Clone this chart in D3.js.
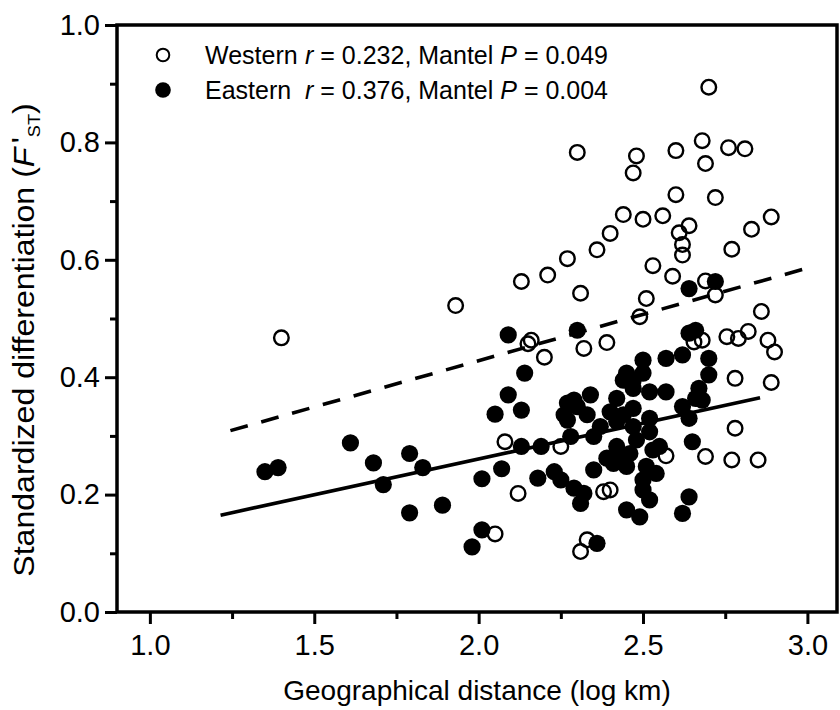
<!DOCTYPE html>
<html>
<head>
<meta charset="utf-8">
<script src="https://cdn.jsdelivr.net/npm/d3@7/dist/d3.min.js"></script>
<style>
    html, body { margin: 0; padding: 0; background: #fff; }
    svg { display: block; font-family: 'Liberation Sans', Arial, sans-serif; }
</style>
</head>
<body>
<div id="chart"></div>
<script>
// western populations (open circles): [log km, F'ST]
var westernPoints = [
    [1.40, 0.467], [1.93, 0.522], [2.13, 0.563], [2.21, 0.574], [2.27, 0.602],
    [2.30, 0.783], [2.31, 0.543], [2.36, 0.617], [2.40, 0.645], [2.44, 0.677],
    [2.47, 0.748], [2.48, 0.777], [2.50, 0.669], [2.51, 0.534], [2.53, 0.590],
    [2.56, 0.675], [2.59, 0.572], [2.60, 0.786], [2.60, 0.711], [2.61, 0.646],
    [2.62, 0.626], [2.62, 0.608], [2.64, 0.658], [2.68, 0.803], [2.69, 0.764],
    [2.70, 0.894], [2.72, 0.706], [2.69, 0.564], [2.72, 0.540], [2.76, 0.791],
    [2.81, 0.789], [2.77, 0.618], [2.83, 0.652], [2.89, 0.673], [2.86, 0.512],
    [2.755, 0.469], [2.79, 0.466], [2.82, 0.478], [2.68, 0.463], [2.655, 0.460],
    [2.88, 0.463], [2.90, 0.443], [2.78, 0.398], [2.89, 0.391], [2.78, 0.313],
    [2.69, 0.265], [2.77, 0.259], [2.85, 0.259], [2.39, 0.459], [2.49, 0.503],
    [2.15, 0.457], [2.16, 0.463], [2.20, 0.434], [2.32, 0.449], [2.08, 0.290],
    [2.25, 0.282], [2.12, 0.202], [2.38, 0.205], [2.40, 0.208], [2.05, 0.133],
    [2.33, 0.123], [2.31, 0.103], [2.57, 0.266]
];

// eastern populations (filled circles)
var easternPoints = [
    [1.35, 0.239], [1.39, 0.246], [1.61, 0.288], [1.68, 0.254], [1.71, 0.217],
    [1.79, 0.270], [1.83, 0.246], [1.79, 0.169], [1.89, 0.182], [1.98, 0.111],
    [2.01, 0.140], [2.01, 0.227], [2.07, 0.244], [2.05, 0.337], [2.09, 0.370],
    [2.09, 0.472], [2.13, 0.344], [2.14, 0.407], [2.13, 0.282], [2.19, 0.282],
    [2.18, 0.228], [2.23, 0.239], [2.25, 0.225], [2.30, 0.480], [2.28, 0.299],
    [2.27, 0.356], [2.29, 0.361], [2.34, 0.370], [2.26, 0.336], [2.33, 0.336],
    [2.30, 0.350], [2.27, 0.327], [2.35, 0.299], [2.35, 0.242], [2.29, 0.211],
    [2.32, 0.202], [2.31, 0.185], [2.36, 0.117], [2.37, 0.316], [2.42, 0.364],
    [2.40, 0.341], [2.44, 0.336], [2.47, 0.347], [2.42, 0.325], [2.45, 0.407],
    [2.44, 0.395], [2.47, 0.395], [2.50, 0.407], [2.47, 0.381], [2.50, 0.429],
    [2.57, 0.432], [2.62, 0.438], [2.52, 0.375], [2.57, 0.375], [2.52, 0.330],
    [2.52, 0.307], [2.47, 0.316], [2.48, 0.293], [2.42, 0.282], [2.43, 0.259],
    [2.39, 0.262], [2.41, 0.253], [2.45, 0.248], [2.46, 0.270], [2.53, 0.276],
    [2.55, 0.282], [2.51, 0.248], [2.50, 0.225], [2.54, 0.236], [2.50, 0.208],
    [2.52, 0.191], [2.45, 0.174], [2.49, 0.162], [2.64, 0.475], [2.66, 0.480],
    [2.70, 0.432], [2.70, 0.404], [2.67, 0.381], [2.66, 0.364], [2.62, 0.350],
    [2.64, 0.330], [2.68, 0.361], [2.65, 0.290], [2.64, 0.196], [2.62, 0.168],
    [2.64, 0.551], [2.72, 0.563]
];

// regression lines: start and end points
var westernFit = [[1.245, 0.309], [3.013, 0.588]];
var easternFit = [[1.215, 0.165], [2.856, 0.365]];

var xMajorTicks = [1.0, 1.5, 2.0, 2.5, 3.0];
var xMinorTicks = [1.25, 1.75, 2.25, 2.75];
var yMajorTicks = [0.0, 0.2, 0.4, 0.6, 0.8, 1.0];
var yMinorTicks = [0.1, 0.3, 0.5, 0.7, 0.9];

var legendNames = ['Western', 'Eastern'];
var legendR = ['0.232', '0.376'];
var legendP = ['0.049', '0.004'];

(function () {
    'use strict';

    var width = 840, height = 710;
    var frame = { left: 117, right: 837, top: 25, bottom: 612 };

    var svg = d3.select('#chart').append('svg')
        .attr('width', width)
        .attr('height', height);

    svg.append('rect')
        .attr('width', width)
        .attr('height', height)
        .attr('fill', '#fff');

    var x = d3.scaleLinear().domain([0.9, 3.09]).range([frame.left, frame.right]);
    var y = d3.scaleLinear().domain([0, 1]).range([frame.bottom, frame.top]);

    var fmt = d3.format('.1f');

    // axes with major + minor ticks
    function styleAxis(g, fontSize) {
        g.select('.domain').remove();
        g.selectAll('.tick line').attr('stroke', '#000').attr('stroke-width', 3);
        g.selectAll('.tick text')
            .attr('fill', '#000')
            .style('font-size', fontSize + 'px');
    }

    svg.append('g')
        .attr('transform', 'translate(0,' + frame.bottom + ')')
        .call(d3.axisBottom(x).tickValues(xMajorTicks).tickFormat(fmt).tickSize(12).tickPadding(10))
        .call(styleAxis, 29);
    svg.append('g')
        .attr('transform', 'translate(0,' + frame.bottom + ')')
        .call(d3.axisBottom(x).tickValues(xMinorTicks).tickFormat('').tickSize(7))
        .call(styleAxis, 29);

    svg.append('g')
        .attr('transform', 'translate(' + frame.left + ',0)')
        .call(d3.axisLeft(y).tickValues(yMajorTicks).tickFormat(fmt).tickSize(12).tickPadding(5))
        .call(styleAxis, 29);
    svg.append('g')
        .attr('transform', 'translate(' + frame.left + ',0)')
        .call(d3.axisLeft(y).tickValues(yMinorTicks).tickFormat('').tickSize(7))
        .call(styleAxis, 29);

    // plot frame
    svg.append('rect')
        .attr('x', frame.left)
        .attr('y', frame.top)
        .attr('width', frame.right - frame.left)
        .attr('height', frame.bottom - frame.top)
        .attr('fill', 'none')
        .attr('stroke', '#000')
        .attr('stroke-width', 3.5);

    // points: open first, filled on top
    svg.append('g').selectAll('circle')
        .data(westernPoints)
        .enter().append('circle')
        .attr('cx', function (d) { return x(d[0]); })
        .attr('cy', function (d) { return y(d[1]); })
        .attr('r', 7.3)
        .attr('fill', 'none')
        .attr('stroke', '#000')
        .attr('stroke-width', 2.4);

    svg.append('g').selectAll('circle')
        .data(easternPoints)
        .enter().append('circle')
        .attr('cx', function (d) { return x(d[0]); })
        .attr('cy', function (d) { return y(d[1]); })
        .attr('r', 8.6)
        .attr('fill', '#000');

    var line = d3.line()
        .x(function (d) { return x(d[0]); })
        .y(function (d) { return y(d[1]); });

    svg.append('path')
        .attr('d', line(westernFit))
        .attr('fill', 'none')
        .attr('stroke', '#000')
        .attr('stroke-width', 3.6)
        .attr('stroke-dasharray', '18,14');

    svg.append('path')
        .attr('d', line(easternFit))
        .attr('fill', 'none')
        .attr('stroke', '#000')
        .attr('stroke-width', 3.6);

    // legend
    var legend = svg.append('g').attr('class', 'legend');
    legendNames.forEach(function (name, i) {
        var cy = 55 + i * 35;
        if (i === 0) {
            legend.append('circle')
                .attr('cx', 163).attr('cy', cy).attr('r', 6.3)
                .attr('fill', 'none').attr('stroke', '#000').attr('stroke-width', 2);
        } else {
            legend.append('circle')
                .attr('cx', 163).attr('cy', cy).attr('r', 7.8)
                .attr('fill', '#000');
        }
        var t = legend.append('text')
            .attr('x', 205)
            .attr('y', cy + 9)
            .style('font-size', '25px')
            .attr('fill', '#000');
        t.append('tspan').text(name);
        t.append('tspan').attr('x', 305).style('font-style', 'italic').text('r');
        t.append('tspan').text(' = ' + legendR[i] + ', Mantel ');
        t.append('tspan').style('font-style', 'italic').text('P');
        t.append('tspan').text(' = ' + legendP[i]);
    });

    // axis titles
    svg.append('text')
        .attr('x', (frame.left + frame.right) / 2)
        .attr('y', 700)
        .attr('text-anchor', 'middle')
        .style('font-size', '28px')
        .attr('fill', '#000')
        .text('Geographical distance (log km)');

    // the source figure is a bit stretched vertically, so the rotated title is longer
    var yt = svg.append('text')
        .attr('transform', 'translate(34,340) scale(1,1.07) rotate(-90)')
        .attr('text-anchor', 'middle')
        .style('font-size', '30px')
        .attr('fill', '#000');
    yt.append('tspan').text('Standardized differentiation (');
    yt.append('tspan').style('font-style', 'italic').text('F');
    yt.append('tspan').attr('dx', 4).attr('dy', -2).text('\'');
    yt.append('tspan').attr('dy', 8).style('font-size', '17px').text('ST');
    yt.append('tspan').attr('dy', -6).text(')');
}());
</script>
</body>
</html>
